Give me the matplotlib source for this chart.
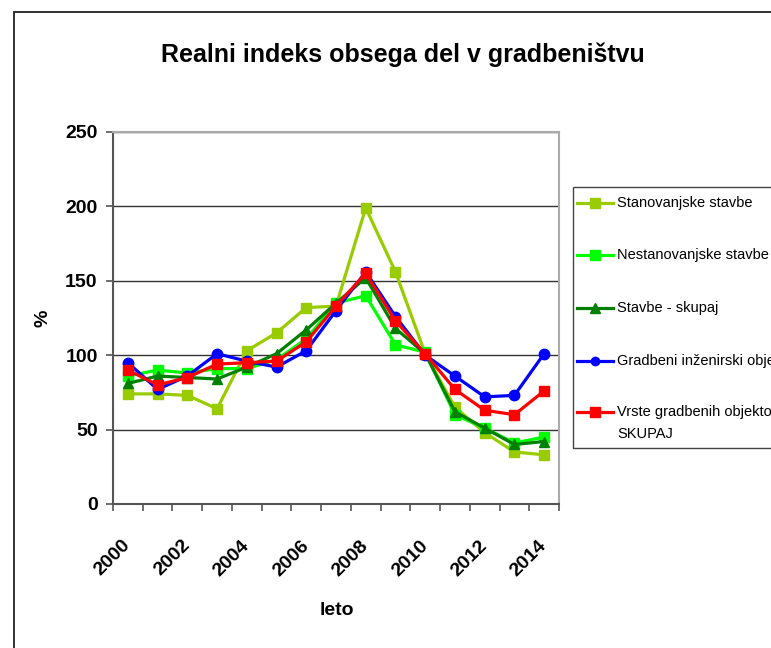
import matplotlib.pyplot as plt
from matplotlib.lines import Line2D
from matplotlib.patches import Rectangle

plt.rcParams['font.family'] = ['Liberation Sans', 'DejaVu Sans']

# data
years = list(range(2000, 2015))
year_labels = [str(y) if y % 2 == 0 else '' for y in years]

stanovanjske = [74, 74, 73, 64, 103, 115, 132, 133, 199, 156, 101, 65, 48, 35, 33]
nestanovanjske = [86, 90, 88, 91, 91, 97, 111, 135, 140, 107, 102, 60, 51, 41, 45]
stavbe_skupaj = [81, 86, 85, 84, 92, 101, 117, 135, 152, 118, 101, 62, 51, 40, 42]
inzenirski = [95, 77, 86, 101, 96, 92, 103, 130, 156, 126, 100, 86, 72, 73, 101]
vrste_skupaj = [90, 80, 85, 94, 95, 96, 109, 133, 155, 123, 101, 77, 63, 60, 76]

series = [stanovanjske, nestanovanjske, stavbe_skupaj, inzenirski, vrste_skupaj]
labels = ['Stanovanjske stavbe', 'Nestanovanjske stavbe', 'Stavbe - skupaj',
          'Gradbeni inženirski objekti', 'Vrste gradbenih objektov\nSKUPAJ']
colors = ['#99CC00', '#00FF00', '#008000', '#0000FF', '#FF0000']
markers = ['s', 's', '^', 'o', 's']

W, H = 771, 648
fig = plt.figure(figsize=(W / 100, H / 100), dpi=100)
ax = fig.add_axes([113 / W, 1 - 504 / H, 446 / W, 372 / H])

x = list(range(len(years)))
for vals, c, m in zip(series, colors, markers):
    ax.plot(x, vals, color=c, marker=m, lw=2.3, ms=7.5, mec=c, mfc=c)

ax.set_xlim(-0.5, len(years) - 0.5)
ax.set_ylim(0, 250)
ax.set_yticks(range(0, 251, 50))
ax.yaxis.grid(True, color='#333333', lw=1)
ax.set_axisbelow(True)

ax.set_xticks(x)
ax.set_xticklabels(year_labels, rotation=45, ha='right', va='center',
                   rotation_mode='anchor', fontsize=14, fontweight='bold')
ax.set_xticks([i - 0.5 for i in range(len(years) + 1)], minor=True)
ax.tick_params(axis='x', which='major', length=0, pad=28)
ax.tick_params(axis='x', which='minor', length=5, width=1.2, color='#555555')
ax.tick_params(axis='y', length=5, width=1.2, color='#555555', pad=6)
for t in ax.get_yticklabels():
    t.set_fontsize(14)
    t.set_fontweight('bold')

for s in ['left', 'bottom']:
    ax.spines[s].set_color('#555555')
    ax.spines[s].set_linewidth(1.5)
for s in ['top', 'right']:
    ax.spines[s].set_color('#aaaaaa')
    ax.spines[s].set_linewidth(1.5)

ax.set_ylabel('%', fontsize=14, fontweight='bold')
ax.yaxis.set_label_coords(-0.137, 0.5)
ax.set_xlabel('leto', fontsize=14, fontweight='bold')
ax.xaxis.set_label_coords(0.502, -0.263)

fig.text(403 / W, 1 - 55 / H, 'Realni indeks obsega del v gradbeništvu',
         ha='center', va='center', fontsize=18, fontweight='bold')

# outer chart border (runs off the right and bottom edges)
fig.add_artist(Rectangle((14 / W, -1), 2, 2 - 12 / H, transform=fig.transFigure,
                         fill=False, edgecolor='#222222', lw=1.3, clip_on=False))

# legend box, cut off at the right edge like the reference
fig.add_artist(Rectangle((573 / W, 1 - 448 / H), 1, (448 - 187) / H,
                         transform=fig.transFigure, fill=False,
                         edgecolor='#444444', lw=1))
rows = [203, 255, 308, 361, 412]
for y, lab, c, m in zip(rows, labels, colors, markers):
    fy = 1 - y / H
    fig.add_artist(Line2D([577 / W, 613 / W], [fy, fy], transform=fig.transFigure,
                          color=c, lw=2.3))
    fig.add_artist(Line2D([595 / W], [fy], transform=fig.transFigure, color=c,
                          marker=m, ms=7 if m != 'o' else 6, mec=c, mfc=c))
    lines = lab.split('\n')
    for k, line in enumerate(lines):
        fig.text(617 / W, 1 - (y + 22 * k) / H, line, ha='left', va='center',
                 fontsize=10.5)

fig.savefig('out.png', dpi=100)
